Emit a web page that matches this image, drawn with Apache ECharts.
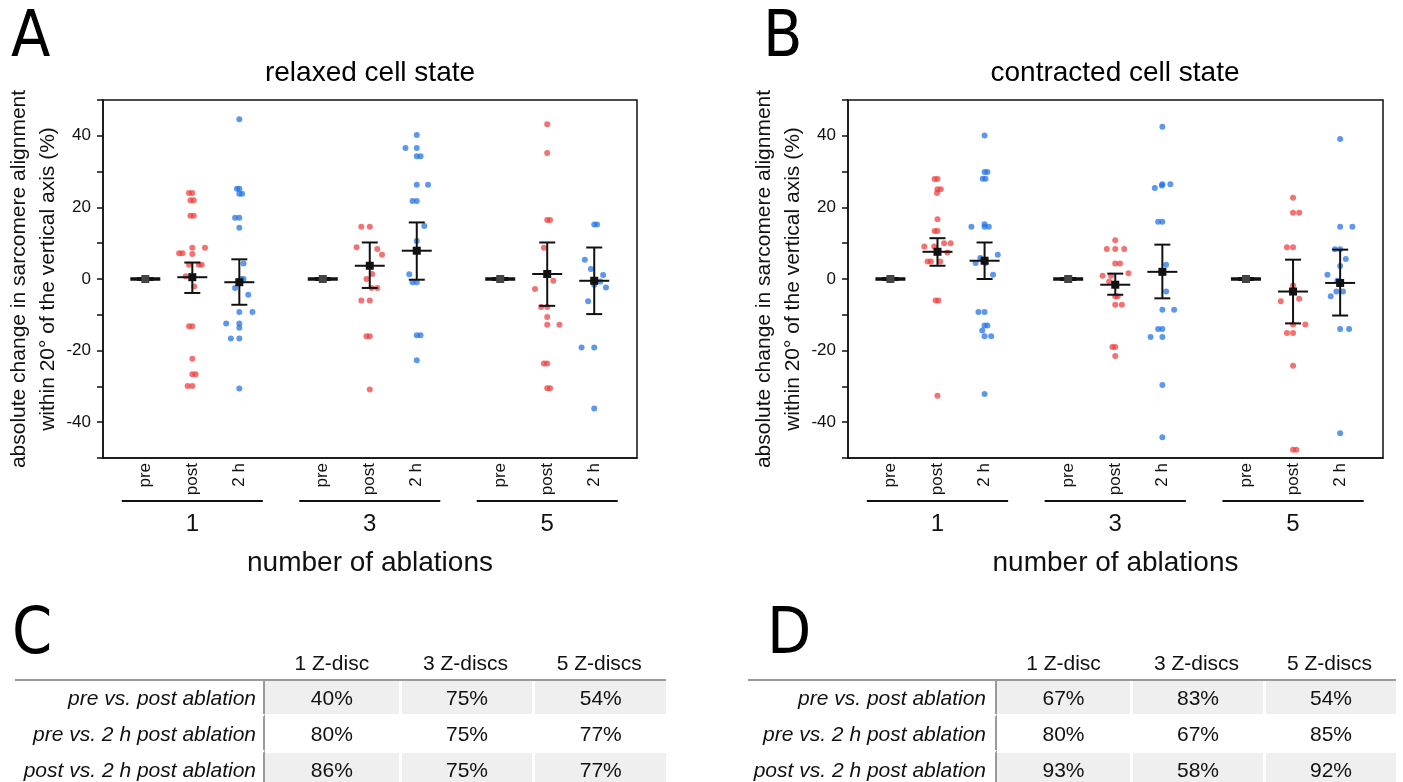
<!DOCTYPE html>
<html>
<head>
<meta charset="utf-8">
<script src="https://cdn.jsdelivr.net/npm/echarts@6/dist/echarts.min.js"></script>
<style>
  html, body { margin: 0; padding: 0; background: #fff; }
  #chart { position: absolute; left: 0; top: 0; width: 1403px; height: 782px; }
  .tbl { position: absolute; border-collapse: separate; border-spacing: 0; table-layout: fixed;
         font-family: 'Liberation Sans', Arial, sans-serif; font-size: 21px; color: #111; }
  .tbl td, .tbl th { padding: 0; font-weight: normal; text-align: center; }
  .tbl th { height: 33px; border-bottom: 2px solid #9a9a9a; vertical-align: middle; }
  .tbl td { height: 33px; }
  .tbl td.lab { text-align: right; font-style: italic; border-right: 2px solid #9a9a9a; }
  .tbl tr.r2 td, .tbl tr.r3 td { border-top: 3px solid #fff; }
  .tbl tr.r1 td.val, .tbl tr.r3 td.val { background: #efefef; }
  .tbl td.val + td.val { border-left: 3px solid #fff; }
</style>
</head>
<body>
<div id="chart"></div>
<table id="tblC" class="tbl" style="left:15px; top:646px; width:651px;"></table>
<table id="tblD" class="tbl" style="left:748px; top:646px; width:648px;"></table>
<script>
// column labels / groups
const stages = ['pre', 'post', '2 h'];
const ablations = ['1', '3', '5'];
// x position of the 9 columns (pre/post/2 h for 1, 3, 5 ablations)
const colX = [0.9, 1.9, 2.9, 4.675, 5.675, 6.675, 8.45, 9.45, 10.45];
const xMax = 11.36;

// --- A: relaxed cell state, points as [jitter, value] ---
const relaxedPost1 = [[-0.07,24],[0,24],[-0.04,22],[0.03,22],[-0.04,17.7],[0.03,17.7],[0,8.7],[0.27,8.7],
  [-0.28,7.2],[-0.21,7.2],[0,7],[-0.07,4],[0.14,4],[0.2,4],[-0.14,0.8],[0,0.5],[0.04,-2.1],
  [-0.07,-13.2],[0,-13.2],[0,-22.3],[0,-26.6],[0.07,-26.6],[-0.1,-29.9],[0,-29.9]];
const relaxedH2_1 = [[0,44.6],[-0.05,25.2],[0,25.2],[0,23.8],[0.06,23.8],[-0.09,17.1],[0,17.1],[0,14.3],
  [0.09,4.3],[0.04,0],[0.09,0],[-0.09,-2.5],[0.19,-4.4],[0,-9.2],[0.28,-9.2],[-0.28,-12.4],[0,-12.4],
  [0,-13.6],[-0.18,-16.6],[0,-16.6],[0,-30.6]];
const relaxedPost3 = [[-0.18,14.6],[0,14.6],[-0.28,8.9],[0.16,8.4],[0.26,6.8],[0.05,1.4],[-0.07,0],
  [0.04,-2.5],[0.16,-2.5],[-0.18,-6],[0,-6],[-0.07,-16],[0,-16],[0,-30.9]];
const relaxedH2_3 = [[0,40.2],[-0.24,36.6],[0,36.6],[0,34.3],[0.08,34.3],[0,26.3],[0.24,26.3],[-0.09,21.8],
  [0,21.8],[0.16,14.8],[0,10.6],[-0.16,1.3],[-0.09,-0.9],[0,-0.9],[0,-15.7],[0.08,-15.7],[0,-22.7]];
const relaxedPost5 = [[0,43.2],[0,35.2],[0,16.5],[0.06,16.5],[-0.07,8.7],[0.13,-0.5],[-0.26,-2.8],
  [-0.13,-7.8],[0,-7.8],[0,-10.6],[0,-12.8],[0.26,-12.8],[-0.07,-23.6],[0,-23.6],[0,-30.5],[0.06,-30.5]];
const relaxedH2_5 = [[0,15.2],[0.06,15.2],[-0.2,5.4],[-0.07,2.8],[0.19,1.1],[0.13,-0.7],[0,-1.6],
  [0.25,-2.4],[-0.13,-6.2],[-0.27,-19.1],[0,-19.1],[0,-36.2]];
const relaxedMean = [0, 0.5, -0.9, 0, 3.7, 7.9, 0, 1.4, -0.5];
const relaxedHi   = [0, 4.6, 5.5, 0, 10.2, 15.8, 0, 10.2, 8.8];
const relaxedLo   = [0, -3.9, -7.2, 0, -2.5, -0.2, 0, -7.5, -9.8];

// --- B: contracted cell state ---
const contractedPost1 = [[-0.06,27.9],[0,27.9],[0,25.1],[0.07,25.1],[-0.01,24],[0,16.7],[-0.06,13.4],[0,13.4],
  [0.14,10],[0.28,10],[-0.28,9.1],[-0.07,9.1],[0.21,7.4],[-0.21,4.9],[-0.14,4.9],[0.06,4.9],
  [-0.04,-6],[0.02,-6],[0,-32.6]];
const contractedH2_1 = [[0,40.1],[0,29.9],[0.06,29.9],[-0.04,28],[0.02,28],[0,15.3],[-0.28,14.6],[0,14.6],
  [0.09,14.6],[0.28,6.8],[-0.09,5.9],[-0.19,4.5],[0.02,4.5],[0.18,1.2],[-0.13,-9.2],[0,-9.2],
  [0,-13],[0.06,-13],[-0.05,-14.4],[0,-16],[0.14,-16],[0,-32.1]];
const contractedPost3 = [[0,10.8],[-0.18,8.4],[0,8.4],[0.19,8.4],[0,4.3],[0.1,4.3],[0.28,1.6],[-0.27,0.9],
  [-0.09,0.9],[-0.13,-0.7],[0,-4.8],[0.05,-4.8],[0,-7.2],[0.14,-7.2],[-0.06,-19],[0,-19],[0,-21.5]];
const contractedH2_3 = [[0,42.5],[0,26.5],[0.17,26.5],[-0.01,26.1],[-0.16,25.4],[-0.09,16],[0,16],[0.08,4],
  [0.08,-3.5],[0,-8.6],[0.25,-8.6],[-0.09,-14],[0,-14],[-0.25,-16.2],[0,-16.2],[0,-29.6],[0,-44.2]];
const contractedPost5 = [[0,22.7],[0,18.5],[0.13,18.5],[-0.13,8.9],[0,8.9],[0,-1.8],[0.13,-5.5],[-0.26,-6.2],
  [0.26,-12.7],[0,-12.7],[-0.13,-15.1],[0,-15.1],[0,-24.2],[0,-47.7],[0.07,-47.7]];
const contractedH2_5 = [[0,39.1],[0,14.6],[0.26,14.6],[-0.11,8.3],[0,8.3],[0.12,5.6],[0,3.6],[-0.27,1.2],
  [-0.06,-0.5],[-0.08,-3.5],[0.06,-3.5],[-0.2,-4.8],[0,-14],[0.19,-14],[0,-43.1]];
const contractedMean = [0, 7.6, 5.1, 0, -1.6, 2.0, 0, -3.5, -1.1];
const contractedHi   = [0, 11.4, 10.2, 0, 1.5, 9.6, 0, 5.4, 8.2];
const contractedLo   = [0, 3.7, 0, 0, -4.4, -5.4, 0, -12.4, -10.2];

// --- C / D tables ---
const tableCols = ['1 Z-disc', '3 Z-discs', '5 Z-discs'];
const tableRows = ['pre vs. post ablation', 'pre vs. 2 h post ablation', 'post vs. 2 h post ablation'];
const relaxedPct = [[40, 75, 54], [80, 75, 77], [86, 75, 77]];
const contractedPct = [[67, 83, 54], [80, 67, 85], [93, 58, 92]];

const FONT = "'Liberation Sans', Arial, sans-serif";
const RED = 'rgba(238, 60, 60, 0.9)';
const BLUE = 'rgba(30, 112, 228, 0.9)';

function cloud(groups, cols) {
  const out = [];
  groups.forEach((pts, g) => pts.forEach(p => out.push([colX[cols[g]] + p[0], p[1]])));
  return out;
}

function nearestIdx(arr, v) {
  let best = 0;
  arr.forEach((a, i) => { if (Math.abs(a - v) < Math.abs(arr[best] - v)) best = i; });
  return best;
}

function renderErr(params, api) {
  const x = api.value(0), m = api.value(1), lo = api.value(2), hi = api.value(3);
  const c = api.coord([x, m]);
  const pHi = api.coord([x, hi]);
  const pLo = api.coord([x, lo]);
  const flat = hi === lo;
  const st = { stroke: '#111', lineWidth: flat ? 3.5 : 2 };
  const cap = 8, half = 15, sq = 4;
  return {
    type: 'group',
    children: [
      { type: 'line', shape: { x1: c[0], y1: pHi[1], x2: c[0], y2: pLo[1] }, style: st },
      { type: 'line', shape: { x1: c[0] - cap, y1: pHi[1], x2: c[0] + cap, y2: pHi[1] }, style: st },
      { type: 'line', shape: { x1: c[0] - cap, y1: pLo[1], x2: c[0] + cap, y2: pLo[1] }, style: st },
      { type: 'line', shape: { x1: c[0] - half, y1: c[1], x2: c[0] + half, y2: c[1] }, style: st },
      { type: 'rect', shape: { x: c[0] - sq, y: c[1] - sq, width: 2 * sq, height: 2 * sq },
        style: { fill: flat ? '#444' : '#111' } }
    ]
  };
}

// line under each group of three columns
function renderUnderline(params, api) {
  const a = api.coord([api.value(0), -50]);
  const b = api.coord([api.value(1), -50]);
  const y = a[1] + 43;
  return { type: 'line', shape: { x1: a[0], y1: y, x2: b[0], y2: y }, style: { stroke: '#111', lineWidth: 2 } };
}

const groupCenters = [colX[1], colX[4], colX[7]];
const underlines = groupCenters.map(c => [c - 1.5, c + 1.5]);

function panelAxes(g) {
  const x = [{
    gridIndex: g, type: 'value', min: 0, max: xMax,
    axisLine: { onZero: false, lineStyle: { color: '#111', width: 1.5 } },
    axisTick: { show: false },
    splitLine: { show: false },
    axisLabel: {
      customValues: colX, rotate: 90, margin: 5, fontSize: 17, fontFamily: FONT, color: '#111',
      formatter: v => stages[nearestIdx(colX, v) % 3]
    },
    name: 'number of ablations', nameLocation: 'middle', nameGap: 91,
    nameTextStyle: { fontSize: 28, fontFamily: FONT, color: '#111' }
  }, {
    gridIndex: g, type: 'value', min: 0, max: xMax, position: 'bottom',
    axisLine: { show: false }, axisTick: { show: false }, splitLine: { show: false },
    axisLabel: {
      customValues: groupCenters, margin: 54, fontSize: 24, fontFamily: FONT, color: '#111',
      formatter: v => ablations[nearestIdx(groupCenters, v)]
    }
  }];
  const y = {
    gridIndex: g, type: 'value', min: -50, max: 50, interval: 10,
    axisLine: { onZero: false, lineStyle: { color: '#111', width: 1.5 } },
    axisTick: { show: true, length: 6, lineStyle: { color: '#111', width: 1.5 } },
    splitLine: { show: false },
    axisLabel: {
      margin: 12, fontSize: 17, fontFamily: FONT, color: '#111',
      formatter: v => (v % 20 === 0 && Math.abs(v) < 50) ? String(v) : ''
    },
    name: 'absolute change in sarcomere alignment\nwithin 20° of the vertical axis (%)',
    nameLocation: 'middle', nameRotate: 90, nameGap: 33,
    nameTextStyle: { fontSize: 21, lineHeight: 29, fontFamily: FONT, color: '#111', align: 'center' }
  };
  return { x, y };
}

function panelSeries(g, post, h2, mean, hi, lo) {
  const xi = g * 2;
  return [
    { type: 'scatter', xAxisIndex: xi, yAxisIndex: g, symbolSize: 6, itemStyle: { color: RED },
      data: cloud(post, [1, 4, 7]), z: 2 },
    { type: 'scatter', xAxisIndex: xi, yAxisIndex: g, symbolSize: 6, itemStyle: { color: BLUE },
      data: cloud(h2, [2, 5, 8]), z: 2 },
    { type: 'custom', xAxisIndex: xi, yAxisIndex: g, renderItem: renderErr, z: 3,
      encode: { x: 0, y: [1, 2, 3] },
      data: colX.map((x, i) => [x, mean[i], lo[i], hi[i]]) },
    { type: 'custom', xAxisIndex: xi, yAxisIndex: g, renderItem: renderUnderline, clip: false,
      encode: { x: [0, 1] }, data: underlines }
  ];
}

const axA = panelAxes(0), axB = panelAxes(1);
const titleStyle = (size) => ({ fontSize: size, fontFamily: FONT, fontWeight: 'normal', color: '#000' });
const letterStyle = { fontSize: 64, fontFamily: "'Liberation Sans Narrow', 'DejaVu Sans Condensed', sans-serif",
  fontWeight: 'normal', color: '#000' };

const chart = echarts.init(document.getElementById('chart'), null, { renderer: 'canvas' });
chart.setOption({
  backgroundColor: '#fff',
  animation: false,
  title: [
    { text: 'A', left: 11, top: 7, padding: 0, textStyle: letterStyle },
    { text: 'relaxed cell state', left: 370, top: 59, padding: 0, textAlign: 'center', textStyle: titleStyle(28) },
    { text: 'B', left: 763, top: 7, padding: 0, textStyle: letterStyle },
    { text: 'contracted cell state', left: 1115, top: 59, padding: 0, textAlign: 'center', textStyle: titleStyle(28) },
    { text: 'C', left: 12, top: 604, padding: 0, textStyle: letterStyle },
    { text: 'D', left: 767, top: 604, padding: 0, textStyle: letterStyle }
  ],
  grid: [
    { left: 103, top: 100, width: 534, height: 358, show: true, borderColor: '#111', borderWidth: 1.5 },
    { left: 848, top: 100, width: 535, height: 358, show: true, borderColor: '#111', borderWidth: 1.5 }
  ],
  xAxis: axA.x.concat(axB.x),
  yAxis: [axA.y, axB.y],
  series: panelSeries(0, [relaxedPost1, relaxedPost3, relaxedPost5], [relaxedH2_1, relaxedH2_3, relaxedH2_5],
      relaxedMean, relaxedHi, relaxedLo)
    .concat(panelSeries(1, [contractedPost1, contractedPost3, contractedPost5],
      [contractedH2_1, contractedH2_3, contractedH2_5], contractedMean, contractedHi, contractedLo))
});

function buildTable(id, pct, labW, colW) {
  let html = '<colgroup><col style="width:' + labW + 'px">' +
    tableCols.map(() => '<col style="width:' + colW + 'px">').join('') + '</colgroup>';
  html += '<tr><th></th>' + tableCols.map(c => '<th>' + c + '</th>').join('') + '</tr>';
  tableRows.forEach((r, i) => {
    html += '<tr class="r' + (i + 1) + '"><td class="lab" style="padding-right:' + (id === 'tblC' ? 7 : 9) + 'px">' + r + '</td>' +
      pct[i].map(v => '<td class="val">' + v + '%</td>').join('') + '</tr>';
  });
  document.getElementById(id).innerHTML = html;
}
buildTable('tblC', relaxedPct, 250, 133.7);
buildTable('tblD', contractedPct, 249, 133);
</script>
</body>
</html>
